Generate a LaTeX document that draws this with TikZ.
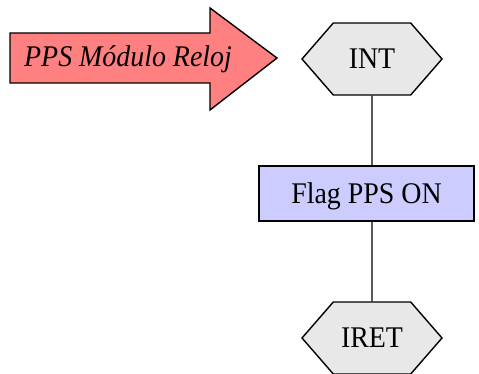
\documentclass[tikz,border=0pt]{standalone}
\usepackage{fontspec}
\setmainfont{Liberation Serif}[FakeStretch=0.93]
\usetikzlibrary{shapes.symbols}

\definecolor{arrowred}{RGB}{255,128,128}
\definecolor{hexgray}{RGB}{232,232,232}
\definecolor{flagblue}{RGB}{204,204,255}

\begin{document}
\begin{tikzpicture}[x=1pt,y=-1pt,line width=1.4pt,
  txt/.style={font=\fontsize{30}{32}\selectfont},
  hexa/.style={txt,draw,fill=hexgray,signal,signal to=west and east,
    signal pointer angle=98,minimum width=140pt,minimum height=72pt,inner sep=0pt},
  flagbox/.style={txt,draw,fill=flagblue,minimum width=215pt,minimum height=55pt,
    text depth=0pt,inner sep=0pt}]
  \useasboundingbox (0,0) rectangle (479,374);
  % flecha de entrada
  \coordinate (A) at (10,33);
  \coordinate (B) at (210,33);
  \coordinate (C) at (210,8);
  \coordinate (D) at (277,58);
  \coordinate (E) at (210,110);
  \coordinate (F) at (210,83);
  \coordinate (G) at (10,83);
  \draw[fill=arrowred] (A) -- (B) -- (C) -- (D) -- (E) -- (F) -- (G) -- cycle;
  \node[txt,anchor=base] (reloj) at (128,67) {\itshape PPS Módulo Reloj};

  \node[hexa] (int) at (372,59) {INT};
  \node[flagbox] (flag) at (366.5,193.5) {Flag PPS ON};
  \node[hexa] (iret) at (372,338) {IRET};
  \draw (int) -- (int |- flag.north);
  \draw (iret) -- (iret |- flag.south);
\end{tikzpicture}
\end{document}
